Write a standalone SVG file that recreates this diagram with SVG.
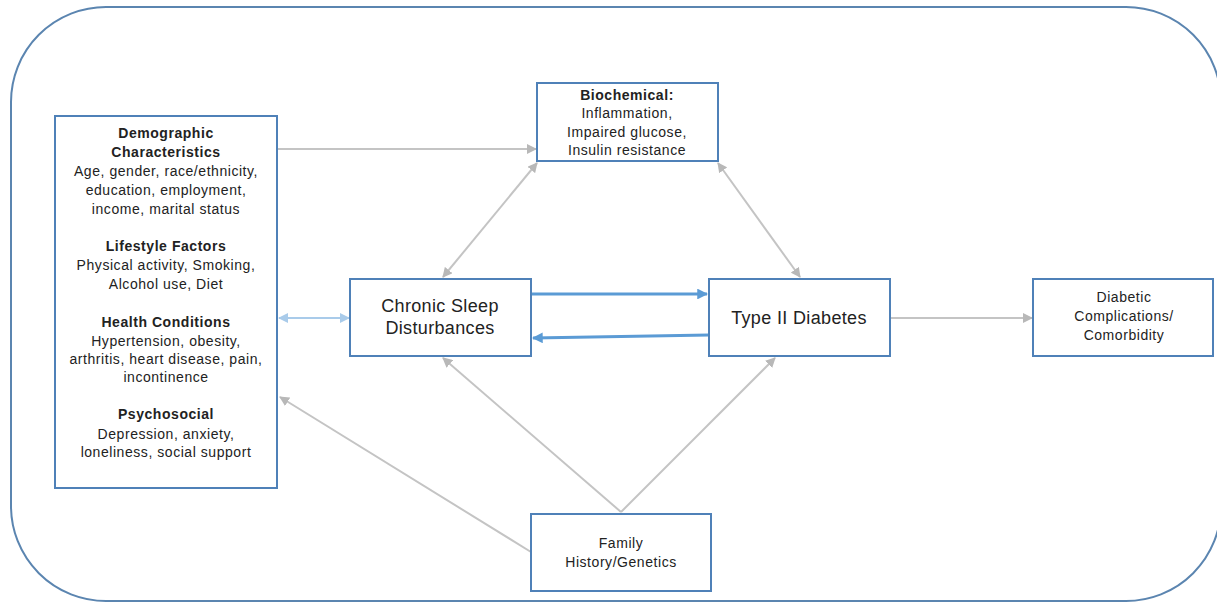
<svg xmlns="http://www.w3.org/2000/svg" width="1217" height="604" viewBox="0 0 1217 604">
<style>
.box{fill:#fff;stroke:#4f81b8;stroke-width:2}
.t{font-family:"Liberation Sans",Arial,sans-serif;fill:#222;text-anchor:middle}
.s{font-size:14px;letter-spacing:0.55px}
.b{font-weight:bold}
.l{font-size:18px;letter-spacing:0.35px}
.g{stroke:#c4c4c4;stroke-width:2;fill:none}
.bl{stroke:#5b9bd5;stroke-width:3;fill:none}
.lb{stroke:#a9cbea;stroke-width:2;fill:none}
</style>
<defs>
<marker id="ag" viewBox="0 0 10 10" refX="9" refY="5" markerWidth="5" markerHeight="5" orient="auto-start-reverse" markerUnits="strokeWidth"><path d="M0,0L10,5L0,10z" fill="#b8b8b8"/></marker>
<marker id="ab" viewBox="0 0 10 10" refX="9" refY="5" markerWidth="3.6" markerHeight="3.6" orient="auto-start-reverse" markerUnits="strokeWidth"><path d="M0,0L10,5L0,10z" fill="#5b9bd5"/></marker>
<marker id="al" viewBox="0 0 10 10" refX="9" refY="5" markerWidth="5" markerHeight="5" orient="auto-start-reverse" markerUnits="strokeWidth"><path d="M0,0L10,5L0,10z" fill="#a9cbea"/></marker>
</defs>
<rect x="11" y="7" width="1210" height="594" rx="95" ry="95" fill="#fff" stroke="#5b85b0" stroke-width="2"/>
<g id="connectors">
<line class="g" x1="278" y1="149" x2="536" y2="149" marker-end="url(#ag)"/>
<line class="g" x1="537" y1="163" x2="443" y2="277" marker-start="url(#ag)" marker-end="url(#ag)"/>
<line class="g" x1="718" y1="163" x2="800" y2="277" marker-start="url(#ag)" marker-end="url(#ag)"/>
<line class="lb" x1="279" y1="318" x2="349" y2="318" marker-start="url(#al)" marker-end="url(#al)"/>
<line class="bl" x1="532" y1="294" x2="707" y2="294" marker-end="url(#ab)"/>
<line class="bl" x1="709" y1="335" x2="533" y2="338" marker-end="url(#ab)"/>
<line class="g" x1="891" y1="318" x2="1032" y2="318" marker-end="url(#ag)"/>
<line class="g" x1="621" y1="512" x2="443" y2="358" marker-end="url(#ag)"/>
<line class="g" x1="621" y1="512" x2="775" y2="358" marker-end="url(#ag)"/>
<line class="g" x1="531" y1="552" x2="280" y2="397" marker-end="url(#ag)"/>
</g>
<g id="factors">
<rect class="box" x="55" y="116" width="222" height="372"/>
<text class="t s b" x="166" y="138">Demographic</text>
<text class="t s b" x="166" y="157">Characteristics</text>
<text class="t s" x="166" y="176">Age, gender, race/ethnicity,</text>
<text class="t s" x="166" y="195">education, employment,</text>
<text class="t s" x="166" y="214">income, marital status</text>
<text class="t s b" x="166" y="251">Lifestyle Factors</text>
<text class="t s" x="166" y="270">Physical activity, Smoking,</text>
<text class="t s" x="166" y="289">Alcohol use, Diet</text>
<text class="t s b" x="166" y="327">Health Conditions</text>
<text class="t s" x="166" y="346">Hypertension, obesity,</text>
<text class="t s" x="166" y="364">arthritis, heart disease, pain,</text>
<text class="t s" x="166" y="382">incontinence</text>
<text class="t s b" x="166" y="419">Psychosocial</text>
<text class="t s" x="166" y="439">Depression, anxiety,</text>
<text class="t s" x="166" y="457">loneliness, social support</text>
</g>
<g id="biochemical">
<rect class="box" x="537" y="83" width="181" height="78"/>
<text class="t s b" x="627" y="100">Biochemical:</text>
<text class="t s" x="627" y="118">Inflammation,</text>
<text class="t s" x="627" y="137">Impaired glucose,</text>
<text class="t s" x="627" y="155">Insulin resistance</text>
</g>
<g id="sleep">
<rect class="box" x="350" y="279" width="181" height="77"/>
<text class="t l" x="440" y="312">Chronic Sleep</text>
<text class="t l" x="440" y="334">Disturbances</text>
</g>
<g id="diabetes">
<rect class="box" x="709" y="279" width="181" height="77"/>
<text class="t l" x="799" y="324">Type II Diabetes</text>
</g>
<g id="complications">
<rect class="box" x="1033" y="279" width="180" height="77"/>
<text class="t s" x="1124" y="302">Diabetic</text>
<text class="t s" x="1124" y="321">Complications/</text>
<text class="t s" x="1124" y="340">Comorbidity</text>
</g>
<g id="family">
<rect class="box" x="531" y="514" width="180" height="77"/>
<text class="t s" x="621" y="548">Family</text>
<text class="t s" x="621" y="567">History/Genetics</text>
</g>
</svg>
